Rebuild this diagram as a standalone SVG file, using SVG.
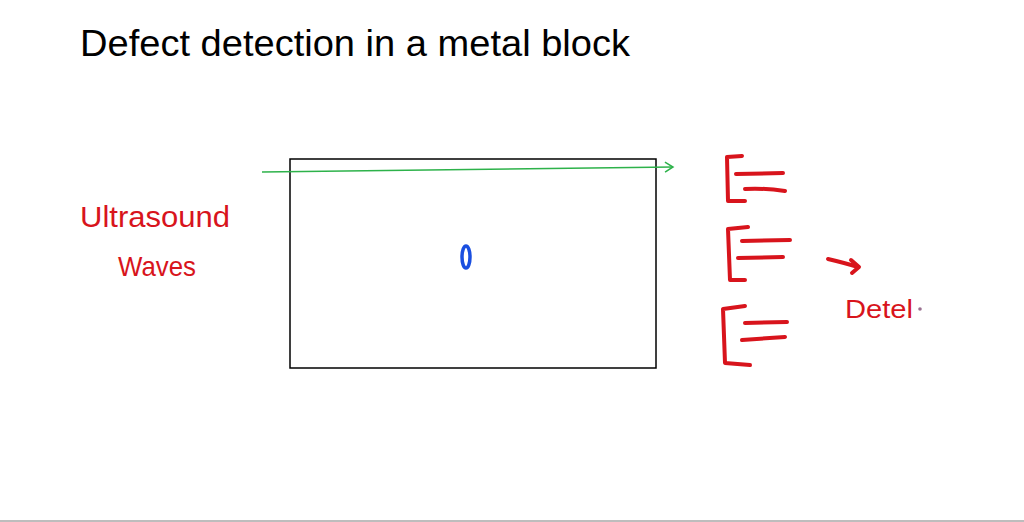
<svg xmlns="http://www.w3.org/2000/svg" width="1024" height="522" viewBox="0 0 1024 522">
<style>
.red{stroke:#d8141c;stroke-width:4;fill:none;stroke-linecap:round;stroke-linejoin:round}
.rt{fill:#d8141c;font-family:"Liberation Sans",Arial,sans-serif}
</style>
<defs>
<marker id="ga" markerWidth="12" markerHeight="12" refX="10" refY="6" orient="auto" markerUnits="userSpaceOnUse">
<path d="M2,1 L10,6 L2,11" fill="none" stroke="#2db24a" stroke-width="1.5"/>
</marker>
</defs>
<rect width="1024" height="522" fill="#fff"/>
<line x1="0" y1="521" x2="1024" y2="521" stroke="#bdbdbd" stroke-width="2"/>
<g id="title">
<text x="80" y="56" font-family="Liberation Sans,Arial,sans-serif" font-size="36" fill="#000" textLength="550" lengthAdjust="spacingAndGlyphs">Defect detection in a metal block</text>
</g>
<g id="block">
<rect x="290" y="159" width="366" height="209" fill="none" stroke="#000" stroke-width="1.5"/>
</g>
<g id="defect">
<ellipse cx="466" cy="257" rx="4" ry="11" fill="none" stroke="#1a4fe0" stroke-width="3.5"/>
</g>
<g id="ultrasound-label">
<text class="rt" x="80" y="227" font-size="30" textLength="150" lengthAdjust="spacingAndGlyphs">Ultrasound</text>
<text class="rt" x="118" y="276" font-size="28" textLength="78" lengthAdjust="spacingAndGlyphs">Waves</text>
</g>
<g id="connectors">
<line x1="262" y1="172" x2="673" y2="167" stroke="#2db24a" stroke-width="1.5" marker-end="url(#ga)"/>
<path class="red" d="M828,259 Q845,263 858,267" stroke-width="3"/>
<path class="red" d="M851,260 L859,267 L852,273" stroke-width="3"/>
</g>
<g id="detector1">
<path class="red" d="M742,156 L727,157 L728,201 L745,201"/>
<path class="red" d="M736,174 L783,173 M745,189 Q765,188 785,191"/>
</g>
<g id="detector2">
<path class="red" d="M748,227 L728,229 L730,280 L745,280"/>
<path class="red" d="M742,241 L790,240 M738,258 L783,257"/>
</g>
<g id="detector3">
<path class="red" d="M745,306 L723,309 L725,363 L750,365"/>
<path class="red" d="M745,323 L787,322 M742,340 L785,337"/>
</g>
<g id="detector-label">
<text class="rt" x="845" y="318" font-size="26" textLength="68" lengthAdjust="spacingAndGlyphs">Detel</text>
<circle cx="920" cy="309" r="1.8" fill="#9a7090"/>
</g>
</svg>
